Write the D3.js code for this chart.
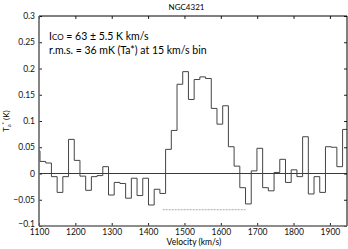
<!DOCTYPE html>
<html>
<head>
<meta charset="utf-8">
<script src="https://cdn.jsdelivr.net/npm/d3@7"></script>
<style>
  body { margin: 0; background: #fff; }
  svg { display: block; font-family: Lato, "Noto Sans", sans-serif; }
</style>
</head>
<body>
<svg width="348" height="249"></svg>
<script>
// channel data (Ta* in K), first value is the clipped bin left of binStart
var binStart = 1102.75,
    binWidth = 15.7;
var tmb = [
  0.043, 0.023, 0.020, -0.006, -0.036, -0.006, 0.065, 0.025, -0.005, -0.032,
  -0.006, -0.004, 0.013, -0.041, -0.017, -0.019, -0.047, -0.009, -0.042, -0.009,
  -0.060, -0.030, -0.038, 0.046, 0.082, 0.170, 0.194, 0.141, 0.179, 0.184,
  0.181, 0.124, 0.094, 0.129, 0.051, 0.014, -0.027, -0.058, 0.005, 0.048,
  -0.027, -0.033, 0.002, 0.027, -0.017, 0.007, -0.006, 0.070, -0.039, -0.006,
  -0.036, 0.051, 0.050, 0.013, 0.084
];
var lineRange = [1440, 1668], lineLevel = -0.069;
var xTicks = [1100, 1200, 1300, 1400, 1500, 1600, 1700, 1800, 1900];
var yTicks = [-0.1, -0.05, 0, 0.05, 0.1, 0.15, 0.2, 0.25, 0.3];

var svg = d3.select("svg"),
    margin = { top: 16, right: 1, bottom: 23, left: 39 },
    width = 348 - margin.left - margin.right,
    height = 249 - margin.top - margin.bottom,
    g = svg.append("g").attr("transform", "translate(" + margin.left + "," + margin.top + ")");

var xScale = d3.scaleLinear().domain([1100, 1947]).range([0, width]),
    yScale = d3.scaleLinear().domain([-0.1, 0.3]).range([height, 0]);

g.append("clipPath").attr("id", "clip")
  .append("rect").attr("width", width).attr("height", height);

var pts = tmb.map(function (v, i) {
  return { v: binStart + (i - 1) * binWidth, t: v };
});
pts.push({ v: binStart + (tmb.length - 1) * binWidth, t: tmb[tmb.length - 1] });

var line = d3.line()
  .curve(d3.curveStepAfter)
  .x(function (d) { return xScale(d.v); })
  .y(function (d) { return yScale(d.t); });

// zero line
g.append("line")
  .attr("x1", 0).attr("x2", width)
  .attr("y1", yScale(0)).attr("y2", yScale(0))
  .attr("stroke", "#222").attr("stroke-width", 0.9);

g.append("path")
  .attr("clip-path", "url(#clip)")
  .attr("d", line(pts))
  .attr("fill", "none")
  .attr("stroke", "#444")
  .attr("stroke-width", 1);

// velocity range of integration
g.append("line")
  .attr("x1", xScale(lineRange[0])).attr("x2", xScale(lineRange[1]))
  .attr("y1", yScale(lineLevel)).attr("y2", yScale(lineLevel))
  .attr("stroke", "#aaa").attr("stroke-width", 1)
  .attr("stroke-dasharray", "2,1");

// axes
var gX = g.append("g")
  .attr("transform", "translate(0," + height + ")")
  .call(d3.axisBottom(xScale).tickValues(xTicks).tickSizeInner(-3).tickSizeOuter(0).tickPadding(2.5)
    .tickFormat(d3.format("d")));
var gXt = g.append("g")
  .call(d3.axisTop(xScale).tickValues(xTicks).tickSizeInner(-3).tickSizeOuter(0).tickFormat(""));
var gY = g.append("g")
  .call(d3.axisLeft(yScale).tickValues(yTicks).tickSizeInner(-3).tickSizeOuter(0).tickPadding(4)
    .tickFormat(function (d) { return d3.format("")(+d.toFixed(2)); }));
var gYr = g.append("g")
  .attr("transform", "translate(" + width + ",0)")
  .call(d3.axisRight(yScale).tickValues(yTicks).tickSizeInner(-3).tickSizeOuter(0).tickFormat(""));

[gX, gXt, gY, gYr].forEach(function (a) {
  a.select(".domain").remove();
  a.selectAll("line").attr("stroke", "#222");
  a.selectAll("text").attr("font-family", "Lato, sans-serif").attr("font-size", 8.5).attr("fill", "#111");
});
// lowest y label sits just above the corner, as in the original
gY.selectAll(".tick text").filter(function (d) { return d === -0.1; }).attr("dy", "0.1em");

// frame
g.append("line").attr("x1", 0).attr("x2", width).attr("y1", 0).attr("y2", 0)
  .attr("stroke", "#000").attr("stroke-width", 1);
g.append("line").attr("x1", width).attr("x2", width).attr("y1", 0).attr("y2", height)
  .attr("stroke", "#000").attr("stroke-width", 1);
g.append("line").attr("x1", 0).attr("x2", 0).attr("y1", 0).attr("y2", height)
  .attr("stroke", "#666").attr("stroke-width", 1.6);
g.append("line").attr("x1", 0).attr("x2", width).attr("y1", height).attr("y2", height)
  .attr("stroke", "#666").attr("stroke-width", 1.6);

// texts
svg.append("text")
  .attr("x", 186.5).attr("y", 10)
  .attr("text-anchor", "middle")
  .attr("font-size", 8)
  .text("NGC4321");

var t1 = svg.append("text")
  .attr("x", 49).attr("y", 39.5)
  .attr("font-size", 10.5);
t1.append("tspan").text("I");
t1.append("tspan").attr("font-size", 8).text("CO");
t1.append("tspan").text(" = 63 \u00b1 5.5 K km/s");

svg.append("text")
  .attr("x", 49).attr("y", 54)
  .attr("font-size", 10.5)
  .text("r.m.s. = 36 mK (Ta*) at 15 km/s bin");

svg.append("text")
  .attr("x", 194).attr("y", 245)
  .attr("text-anchor", "middle")
  .attr("font-size", 8.5)
  .text("Velocity (km/s)");

var yl = svg.append("text")
  .attr("transform", "translate(9," + (margin.top + height / 2) + ") rotate(-90)")
  .attr("text-anchor", "middle")
  .attr("font-size", 8);
yl.append("tspan").text("T");
yl.append("tspan").attr("font-size", 5.5).attr("dy", 2).text("a");
yl.append("tspan").attr("font-size", 5.5).attr("dy", -5).text("*");
yl.append("tspan").attr("dy", 3).text(" (K)");
</script>
</body>
</html>
